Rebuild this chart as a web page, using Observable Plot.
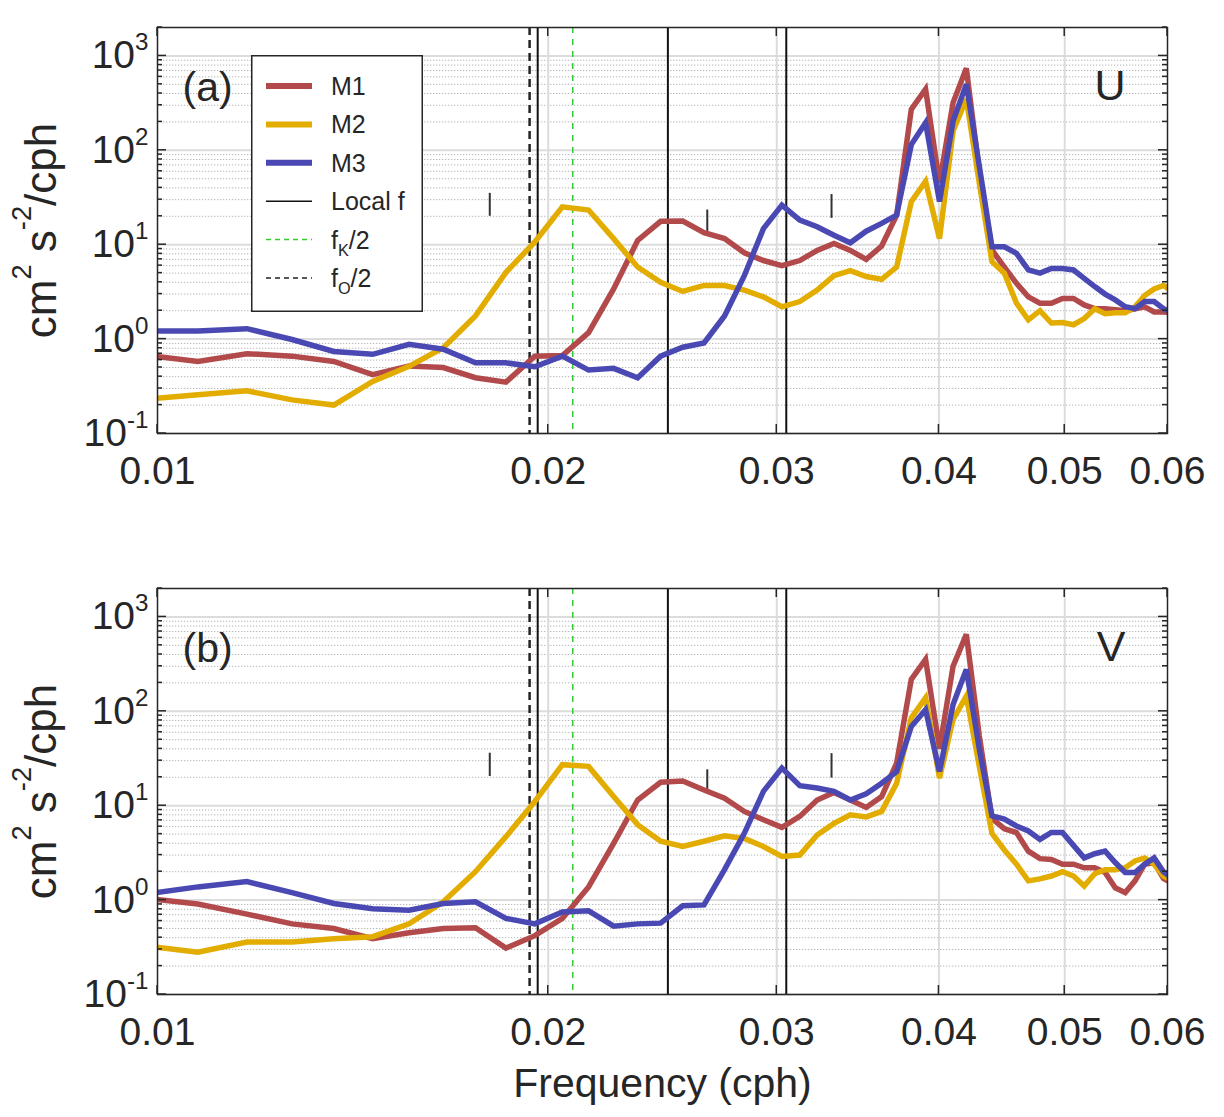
<!DOCTYPE html>
<html>
<head>
<meta charset="utf-8">
<script src="https://cdn.jsdelivr.net/npm/d3@7"></script>
<script src="https://cdn.jsdelivr.net/npm/@observablehq/plot@0.6"></script>
<style>
  body { margin: 0; background: #fff; }
  #chart { position: relative; width: 1224px; height: 1117px; background: #fff;
           font-family: "Liberation Sans", Arial, Helvetica, sans-serif; color: #262626; }
  #chart > svg { display: block; }
  #legend { position: absolute; }
</style>
</head>
<body>
<div id="chart"></div>
<script>
// ---------------- data ----------------
const freq = [0.009766,0.010742,0.011719,0.012695,0.013672,0.014648,0.015625,0.016602,0.017578,0.018555,
  0.019531,0.020508,0.021484,0.022461,0.023438,0.024414,0.025391,0.026367,0.027344,0.028320,
  0.029297,0.030273,0.031250,0.032227,0.033203,0.034180,0.035156,0.036133,0.037109,0.038086,
  0.039063,0.040039,0.041016,0.041992,0.042969,0.043945,0.044922,0.045898,0.046875,0.047852,
  0.048828,0.049805,0.050781,0.051758,0.052734,0.053711,0.054688,0.055664,0.056641,0.057617,
  0.058594,0.059570,0.060547];

const seriesNames = ["M1", "M2", "M3"];
const seriesColors = ["#b24a4b", "#e2ad00", "#4a49b3"];

// panel (a): U
const uM1 = [0.68,0.58,0.70,0.66,0.58,0.42,0.52,0.50,0.39,0.35,
  0.66,0.67,1.17,3.4,11.1,17.7,17.8,13.4,11.6,8.2,
  6.8,6.0,6.8,8.7,10.3,8.7,7.0,9.7,20.5,272,
  444,45,320,740,60,8.8,5.8,3.9,2.8,2.4,
  2.4,2.7,2.7,2.3,2.1,2.1,2.05,2.0,2.1,2.2,
  1.94,1.94,1.9];
const uM2 = [0.23,0.257,0.283,0.227,0.20,0.356,0.515,0.81,1.76,5.1,
  10.7,25.2,23.3,11.6,5.8,4.0,3.2,3.7,3.7,3.3,
  2.8,2.2,2.5,3.3,4.7,5.3,4.6,4.3,5.8,28.6,
  47,11.6,160,350,45,6.6,5.0,2.4,1.6,2.0,
  1.48,1.5,1.42,1.65,2.1,1.86,1.9,1.9,2.2,2.9,
  3.4,3.7,3.2];
const uM3 = [1.22,1.22,1.29,0.99,0.74,0.69,0.88,0.78,0.56,0.56,
  0.51,0.66,0.47,0.49,0.39,0.66,0.82,0.91,1.76,4.7,
  14.8,26.3,18.2,15.5,12.6,10.5,13.9,16.8,20.6,115,
  196,28.6,204,502,68,9.5,9.5,8.1,5.4,5.0,
  5.6,5.6,5.4,4.4,3.6,3.0,2.6,2.2,2.1,2.5,
  2.5,2.1,1.9];

// panel (b): V
const vM1 = [1.05,0.91,0.71,0.56,0.50,0.39,0.45,0.50,0.51,0.31,
  0.42,0.64,1.38,4.0,11.5,17.7,18.3,14.7,12.0,8.7,
  7.1,5.9,7.7,11.5,13.8,11.5,9.6,12.5,28.3,218,
  355,40,301,654,55,7.3,5.7,5.2,3.3,2.75,
  2.7,2.4,2.4,2.2,2.2,1.96,1.35,1.2,1.6,2.4,
  2.5,1.7,1.5];
const vM2 = [0.33,0.28,0.36,0.36,0.39,0.41,0.56,0.96,2.0,4.7,
  11.1,27.2,26.1,12.5,6.3,4.2,3.7,4.2,4.8,4.5,
  3.7,2.9,3.0,4.9,6.5,8.0,7.6,8.7,17.3,85,
  139,19.6,82,145,26,5.1,3.4,2.4,1.6,1.68,
  1.8,2.0,1.8,1.41,1.9,2.1,2.1,2.2,2.6,2.8,
  2.4,1.8,1.6];
const vM3 = [1.15,1.38,1.57,1.2,0.92,0.81,0.78,0.92,0.96,0.64,
  0.56,0.75,0.77,0.53,0.56,0.57,0.87,0.89,2.1,5.1,
  14.2,25,16.3,15.4,14.2,11.5,13.4,17.3,23,69,
  104,23,118,278,40,7.8,7.2,6.1,5.4,4.4,
  5.2,5.2,3.8,2.8,3.1,3.3,2.5,1.96,1.96,2.4,
  2.8,2.0,1.7];

// reference frequencies
const localF = [0.01963, 0.02473, 0.03051];
const fK1half = [0.02089];
const fO1half = [0.01935];

// short vertical markers
const ciFreq = [0.01803, 0.02652, 0.03306];
const ciLoU = [20, 13.2, 19];
const ciHiU = [35, 23.3, 34];
const ciLoV = [20.4, 14.2, 19.6];
const ciHiV = [36, 24, 35.6];

// axes
const xTicks = [0.01, 0.02, 0.03, 0.04, 0.05, 0.06];
const xTickLabels = ["0.01", "0.02", "0.03", "0.04", "0.05", "0.06"];
const xGrid = [0.02, 0.03, 0.04, 0.05];
const yMajor = [0.1, 1, 10, 100, 1000];
const yExponents = ["-1", "0", "1", "2", "3"];
const yMinor = [0.2,0.3,0.4,0.5,0.6,0.7,0.8,0.9, 2,3,4,5,6,7,8,9,
  20,30,40,50,60,70,80,90, 200,300,400,500,600,700,800,900, 2000];
const yDomain = [0.1, 2000];
const xDomain = [0.01, 0.06];

const yLabelParts = [["cm",""],["2","sup"],[" s",""],["-2","sup"],["/cph",""]];
const xLabel = "Frequency (cph)";

const legendItems = [
  {parts: [["M1",""]], color: seriesColors[0], width: 6, dash: null},
  {parts: [["M2",""]], color: seriesColors[1], width: 6, dash: null},
  {parts: [["M3",""]], color: seriesColors[2], width: 6, dash: null},
  {parts: [["Local f",""]], color: "#111", width: 1.5, dash: null},
  {parts: [["f",""],["K","sub"],["/2",""]], color: "#33cc33", width: 1.5, dash: "5,4"},
  {parts: [["f",""],["O","sub"],["/2",""]], color: "#222", width: 1.5, dash: "5,4"}
];

const TXT = "#262626";
const FONT = "'Liberation Sans', Arial, Helvetica, sans-serif";
const TICK_FS = 39;

// ---------------- helpers ----------------
function setRich(el, parts, base, supShift = 0.46, supSize = 0.6) {
  const t = d3.select(el);
  t.text(null);
  let shift = 0;
  parts.forEach(([s, kind]) => {
    const target = kind === "sup" ? -supShift : kind === "sub" ? 0.28 : 0;
    const ts = t.append("tspan").text(s);
    if (kind) ts.attr("font-size", base * supSize);
    const dy = (target - shift) * base;
    if (dy) ts.attr("dy", dy);
    shift = target;
  });
}

function panel({vals, ciLo, ciHi, tag, comp, height, marginTop, marginBottom, withXLabel}) {
  const rows = [];
  vals.forEach((arr, s) => arr.forEach((v, i) => rows.push({f: freq[i], v, name: seriesNames[s]})));
  const ci = ciFreq.map((f, i) => ({f, lo: ciLo[i], hi: ciHi[i]}));
  const yLabelKey = "YLABEL";
  const marks = [
    Plot.ruleY(yMinor, {stroke: "#b5b5b5", strokeWidth: 1, strokeDasharray: "1.3,1.7"}),
    Plot.ruleY(yMajor, {stroke: "#dcdcdc", strokeWidth: 2}),
    Plot.ruleX(xGrid, {stroke: "#dcdcdc", strokeWidth: 2}),
    Plot.ruleX(localF, {stroke: "#111", strokeWidth: 2}),
    Plot.ruleX(fO1half, {stroke: "#222", strokeWidth: 2.5, strokeDasharray: "8,5"}),
    Plot.ruleX(fK1half, {stroke: "#33cc33", strokeWidth: 1.5, strokeDasharray: "6,6"}),
    Plot.ruleX(ci, {x: "f", y1: "lo", y2: "hi", stroke: "#333", strokeWidth: 2}),
    Plot.line(rows, {x: "f", y: "v", z: "name", stroke: "name", strokeWidth: 5.5,
      strokeLinejoin: "miter", strokeMiterlimit: 3, strokeLinecap: "butt", clip: true}),
    Plot.frame({stroke: TXT, strokeWidth: 1.5}),
    Plot.text([tag], {text: d => d, frameAnchor: "top-left", dx: 25, dy: 60, lineAnchor: "middle",
      textAnchor: "start", fontSize: 41, fill: TXT}),
    Plot.text([comp], {text: d => d, frameAnchor: "top-right", dx: -42, dy: 59, lineAnchor: "middle",
      textAnchor: "end", fontSize: 43, fill: TXT}),
    Plot.text([yLabelKey], {text: d => d, frameAnchor: "left", rotate: -90, dx: -102,
      lineAnchor: "bottom", textAnchor: "middle", fontSize: 44, fill: TXT})
  ];
  if (withXLabel) {
    marks.push(Plot.text([xLabel], {text: d => d, frameAnchor: "bottom", dy: 102, lineAnchor: "bottom",
      textAnchor: "middle", fontSize: 41, fill: TXT}));
  }
  const p = Plot.plot({
    width: 1224, height, marginLeft: 157, marginRight: 57, marginTop, marginBottom,
    style: {fontFamily: FONT, fontSize: TICK_FS + "px", color: TXT, background: "#fff", overflow: "visible"},
    x: {type: "log", domain: xDomain, ticks: xTicks, tickSize: 0, tickPadding: 23,
        tickFormat: d => xTickLabels[xTicks.indexOf(d)], label: null},
    y: {type: "log", domain: yDomain, ticks: yMajor, tickSize: 0, tickPadding: 9,
        tickFormat: d => "E" + yExponents[yMajor.indexOf(d)], label: null},
    color: {domain: seriesNames, range: seriesColors},
    marks
  });

  // superscript tick labels & y label
  d3.select(p).selectAll("text").each(function() {
    const s = this.textContent;
    if (s === yLabelKey) setRich(this, yLabelParts, 44, 0.55, 0.62);
    else if (/^E-?\d$/.test(s)) setRich(this, [["10",""],[s.slice(1),"sup"]], TICK_FS, 0.46, 0.62);
  });

  // inward ticks (MATLAB-style box ticks)
  const sx = p.scale("x"), sy = p.scale("y");
  const [xl, xr] = sx.range;
  const [yb, yt] = sy.range;
  const g = d3.select(p).append("g").attr("stroke", TXT).attr("stroke-width", 1.5);
  xTicks.forEach(v => {
    const x = sx.apply(v);
    g.append("line").attr("x1", x).attr("x2", x).attr("y1", yb).attr("y2", yb - 9);
    g.append("line").attr("x1", x).attr("x2", x).attr("y1", yt).attr("y2", yt + 9);
  });
  yMajor.forEach(v => {
    const y = sy.apply(v);
    g.append("line").attr("x1", xl).attr("x2", xl + 9).attr("y1", y).attr("y2", y);
    g.append("line").attr("x1", xr).attr("x2", xr - 9).attr("y1", y).attr("y2", y);
  });
  yMinor.forEach(v => {
    const y = sy.apply(v);
    g.append("line").attr("x1", xl).attr("x2", xl + 5).attr("y1", y).attr("y2", y);
    g.append("line").attr("x1", xr).attr("x2", xr - 5).attr("y1", y).attr("y2", y);
  });
  return p;
}

const chart = document.getElementById("chart");
chart.append(panel({vals: [uM1, uM2, uM3], ciLo: ciLoU, ciHi: ciHiU, tag: "(a)", comp: "U",
  height: 500, marginTop: 27, marginBottom: 67, withXLabel: false}));
chart.append(panel({vals: [vM1, vM2, vM3], ciLo: ciLoV, ciHi: ciHiV, tag: "(b)", comp: "V",
  height: 617, marginTop: 88, marginBottom: 123, withXLabel: true}));

// ---------------- legend (panel a) ----------------
const LW = 172, LH = 257;
const leg = d3.select(chart).append("svg").attr("id", "legend")
  .attr("width", LW).attr("height", LH)
  .style("left", "251px").style("top", "55px")
  .style("font-family", FONT);
leg.append("rect").attr("x", 0.75).attr("y", 0.75).attr("width", LW - 1.5).attr("height", LH - 1.5)
  .attr("fill", "#fff").attr("stroke", TXT).attr("stroke-width", 1.5);
legendItems.forEach((it, i) => {
  const cy = 31 + i * 38.4;
  leg.append("line").attr("x1", 15).attr("x2", 61).attr("y1", cy).attr("y2", cy)
    .attr("stroke", it.color).attr("stroke-width", it.width)
    .attr("stroke-dasharray", it.dash);
  const t = leg.append("text").attr("x", 80).attr("y", cy + 9)
    .attr("font-size", 25).attr("fill", TXT);
  setRich(t.node(), it.parts, 25, 0.4, 0.65);
});
</script>
</body>
</html>
